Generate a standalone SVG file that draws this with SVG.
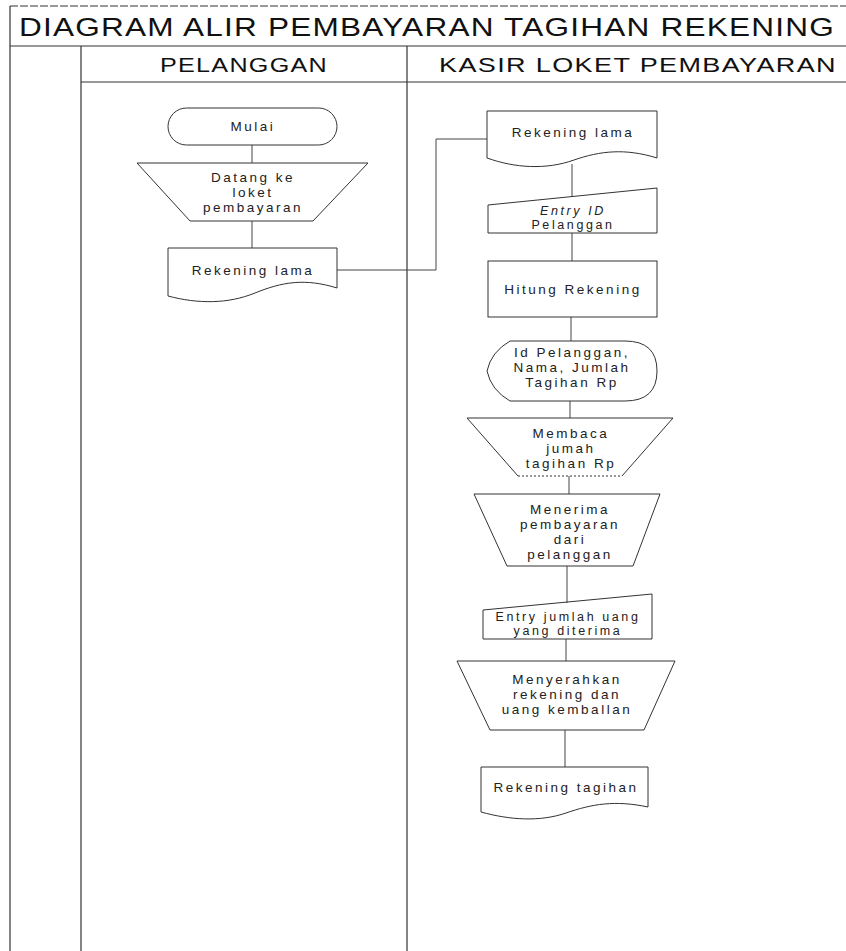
<svg xmlns="http://www.w3.org/2000/svg" width="846" height="951" viewBox="0 0 846 951">
<style>
.frame{stroke:#333;stroke-width:1.2;fill:none}
.shape{stroke:#333;stroke-width:1;fill:none}
.conn{stroke:#444;stroke-width:1;fill:none}
.t{font-family:"Liberation Sans",Arial,sans-serif;font-size:13.5px;letter-spacing:2.5px;fill:#222;text-anchor:middle}
.s{font-size:12.5px;letter-spacing:2.6px}
.h{font-family:"Liberation Sans",Arial,sans-serif;fill:#111}
</style>
<rect x="0" y="0" width="846" height="951" fill="#ffffff"/>
<g id="frame">
<line class="frame" x1="10" y1="6" x2="846" y2="6" stroke-dasharray="8 2"/>
<line class="frame" x1="10" y1="6" x2="10" y2="951"/>
<line class="frame" x1="10" y1="46" x2="846" y2="46"/>
<line class="frame" x1="81" y1="82" x2="846" y2="82"/>
<line class="frame" x1="81" y1="46" x2="81" y2="951"/>
<line class="frame" x1="407" y1="46" x2="407" y2="951"/>
<text class="h" x="19" y="36" font-size="26" letter-spacing="1" textLength="816" lengthAdjust="spacingAndGlyphs">DIAGRAM ALIR PEMBAYARAN TAGIHAN REKENING</text>
<text class="h" x="160" y="72" font-size="19.5" letter-spacing="1" textLength="168" lengthAdjust="spacingAndGlyphs">PELANGGAN</text>
<text class="h" x="439" y="72" font-size="19.5" letter-spacing="1" textLength="398" lengthAdjust="spacingAndGlyphs">KASIR LOKET PEMBAYARAN</text>
</g>
<g id="connectors">
<line class="conn" x1="252" y1="145" x2="252" y2="163"/>
<line class="conn" x1="252" y1="221" x2="252" y2="248"/>
<path class="conn" d="M337,270 H436 V139 H487"/>
<line class="conn" x1="572" y1="164" x2="572" y2="197"/>
<line class="conn" x1="572" y1="233" x2="572" y2="261"/>
<line class="conn" x1="571" y1="317" x2="571" y2="341"/>
<line class="conn" x1="570" y1="401" x2="570" y2="418"/>
<line class="conn" x1="569" y1="476" x2="569" y2="494"/>
<line class="conn" x1="567" y1="566" x2="567" y2="603"/>
<line class="conn" x1="566" y1="639" x2="566" y2="661"/>
<line class="conn" x1="565" y1="730" x2="565" y2="767"/>
</g>
<g id="mulai">
<rect class="shape" x="168" y="108" width="169" height="37" rx="18.5"/>
<text class="t" x="253" y="131">Mulai</text>
</g>
<g id="datang">
<polygon class="shape" points="137,163 368,163 313,221 190,221"/>
<text class="t" x="253" y="182">Datang ke</text>
<text class="t" x="253" y="197">loket</text>
<text class="t" x="253" y="212">pembayaran</text>
</g>
<g id="rekening-lama-pelanggan">
<path class="shape" d="M168,248 H337 V288 C305,278 282,282 255,293 C228,304 198,304 168,296 Z"/>
<text class="t" x="253" y="275">Rekening lama</text>
</g>
<g id="rekening-lama-kasir">
<path class="shape" d="M487,111 H657 V158 C625,148 600,151 574,160 C546,170 515,168 487,158 Z"/>
<text class="t" x="573" y="137">Rekening lama</text>
</g>
<g id="entry-id">
<polygon class="shape" points="488,205 657,188 657,233 488,233"/>
<text class="t s" x="573" y="215" font-style="italic">Entry ID</text>
<text class="t s" x="573" y="229">Pelanggan</text>
</g>
<g id="hitung">
<rect class="shape" x="488" y="261" width="169" height="56"/>
<text class="t" x="573" y="294">Hitung Rekening</text>
</g>
<g id="display">
<path class="shape" d="M510,341 H625 Q657,341 657,371 Q657,401 625,401 H510 Q491,390 487,371 Q491,352 510,341 Z"/>
<text class="t" x="572" y="357">Id Pelanggan,</text>
<text class="t" x="572" y="372">Nama, Jumlah</text>
<text class="t" x="572" y="387">Tagihan Rp</text>
</g>
<g id="membaca">
<polyline class="shape" points="518,476 467,418 673,418 622,476"/>
<line class="shape" x1="518" y1="476" x2="622" y2="476" stroke-dasharray="2 2"/>
<text class="t" x="571" y="438">Membaca</text>
<text class="t" x="571" y="453">jumah</text>
<text class="t" x="571" y="468">tagihan Rp</text>
</g>
<g id="menerima">
<polygon class="shape" points="474,494 660,494 633,566 507,566"/>
<text class="t" x="570" y="514">Menerima</text>
<text class="t" x="570" y="529">pembayaran</text>
<text class="t" x="570" y="544">dari</text>
<text class="t" x="570" y="559">pelanggan</text>
</g>
<g id="entry-jumlah">
<polygon class="shape" points="483,610 652,594 652,639 483,639"/>
<text class="t s" x="568" y="621">Entry jumlah uang</text>
<text class="t s" x="568" y="635">yang diterima</text>
</g>
<g id="menyerahkan">
<polygon class="shape" points="457,661 675,661 644,730 490,730"/>
<text class="t" x="567" y="684">Menyerahkan</text>
<text class="t" x="567" y="699">rekening dan</text>
<text class="t" x="567" y="714">uang kemballan</text>
</g>
<g id="rekening-tagihan">
<path class="shape" d="M481,767 H648 V807 C615,800 592,804 566,813 C540,822 510,820 481,812 Z"/>
<text class="t" x="566" y="792">Rekening tagihan</text>
</g>
</svg>
